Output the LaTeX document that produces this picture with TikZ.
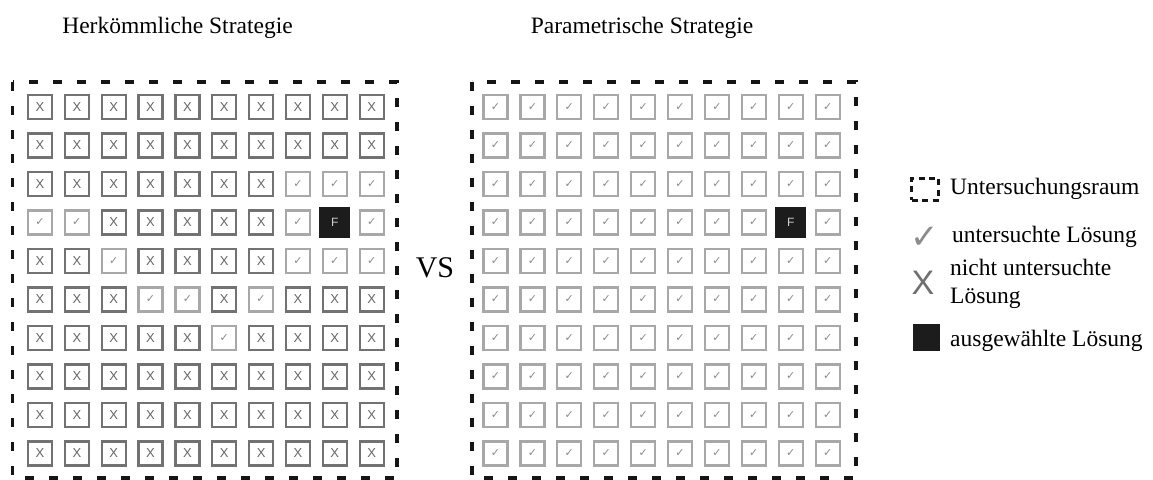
\documentclass[tikz,border=0pt]{standalone}
\usepackage{fontspec}
\setmainfont{Liberation Serif}
\setsansfont{Liberation Sans}
\newfontfamily\symfont{DejaVu Sans}
\definecolor{xframe}{HTML}{727272}
\definecolor{xmark}{HTML}{666666}
\definecolor{cframe}{HTML}{A8A8A8}
\definecolor{cmark}{HTML}{8A8A8A}
\definecolor{fboxc}{HTML}{1C1C1C}
\definecolor{ftext}{HTML}{D0D0D0}
\definecolor{borderc}{HTML}{151515}
\definecolor{legcheck}{HTML}{8C8C8C}
\definecolor{legx}{HTML}{707070}
\tikzset{
 cellbase/.style={minimum size=24pt, inner sep=0pt, outer sep=0pt, line width=2.2pt},
 cellx/.style={cellbase, draw=xframe, text=xmark, font=\sffamily\fontsize{13}{13}\selectfont, node contents={X}},
 cellc/.style={cellbase, draw=cframe, text=cmark, font=\symfont\fontsize{11}{11}\selectfont, node contents={✓}},
 cellf/.style={cellbase, minimum size=31pt, draw=none, fill=fboxc, text=ftext, font=\sffamily\fontsize{12}{12}\selectfont, node contents={F}},
 spaceborder/.style={draw=borderc, line width=3.6pt, dash pattern=on 9pt off 15pt},
 titletext/.style={anchor=base, inner sep=0pt, font=\fontsize{23.5}{28}\selectfont},
 legtext/.style={anchor=base west, inner sep=0pt, font=\fontsize{23.5}{28}\selectfont, align=left},
}
\begin{document}
\begin{tikzpicture}[x=1pt,y=-1pt]
\useasboundingbox[fill=white] (0,0) rectangle (1153,479);
% titles
\node[titletext] (t1) at (177.5,33) {Herkömmliche Strategie};
\node[titletext] (t2) at (642,33) {Parametrische Strategie};
% borders
\draw[spaceborder] (12.5,82) rectangle (397,478);
\draw[spaceborder] (472,82) rectangle (856,478);
% left grid
\foreach \rowpat [count=\j] in {
 {x,x,x,x,x,x,x,x,x,x},
 {x,x,x,x,x,x,x,x,x,x},
 {x,x,x,x,x,x,x,c,c,c},
 {c,c,x,x,x,x,x,c,f,c},
 {x,x,c,x,x,x,x,c,c,c},
 {x,x,x,c,c,x,c,x,x,x},
 {x,x,x,x,x,c,x,x,x,x},
 {x,x,x,x,x,x,x,x,x,x},
 {x,x,x,x,x,x,x,x,x,x},
 {x,x,x,x,x,x,x,x,x,x}}{
 \foreach \c [count=\i] in \rowpat {
   \node[name=L-\j-\i, at={({40+36.85*(\i-1)},{107+38.5*(\j-1)})}, cell\c];
 }
}
% right grid
\foreach \rowpat [count=\j] in {
 {c,c,c,c,c,c,c,c,c,c},
 {c,c,c,c,c,c,c,c,c,c},
 {c,c,c,c,c,c,c,c,c,c},
 {c,c,c,c,c,c,c,c,f,c},
 {c,c,c,c,c,c,c,c,c,c},
 {c,c,c,c,c,c,c,c,c,c},
 {c,c,c,c,c,c,c,c,c,c},
 {c,c,c,c,c,c,c,c,c,c},
 {c,c,c,c,c,c,c,c,c,c},
 {c,c,c,c,c,c,c,c,c,c}}{
 \foreach \c [count=\i] in \rowpat {
   \node[name=R-\j-\i, at={({495.5+36.9*(\i-1)},{107+38.5*(\j-1)})}, cell\c];
 }
}
% VS
\node[anchor=base, inner sep=0pt, font=\fontsize{30}{30}\selectfont] (vs) at (435,277) {VS};
% legend
\node[draw=borderc, line width=3pt, dash pattern=on 6pt off 4.5pt, minimum width=27pt, minimum height=22pt, inner sep=0pt] (lg1) at (925,189) {};
\node[legtext] (lt1) at (950,194) {Untersuchungsraum};
\node[inner sep=0pt, text=legcheck, font=\symfont\fontsize{34}{34}\selectfont] (lg2) at (925,238) {✓};
\node[legtext] (lt2) at (952,242) {untersuchte Lösung};
\node[inner sep=0pt, text=legx, font=\sffamily\fontsize{34}{34}\selectfont] (lg3) at (923,283) {X};
\node[legtext] (lt3) at (950,303) {nicht untersuchte\\Lösung};
\node[fill=fboxc, minimum size=27pt, inner sep=0pt] (lg4) at (926,337) {};
\node[legtext] (lt4) at (950,346) {ausgewählte Lösung};
\end{tikzpicture}
\end{document}
